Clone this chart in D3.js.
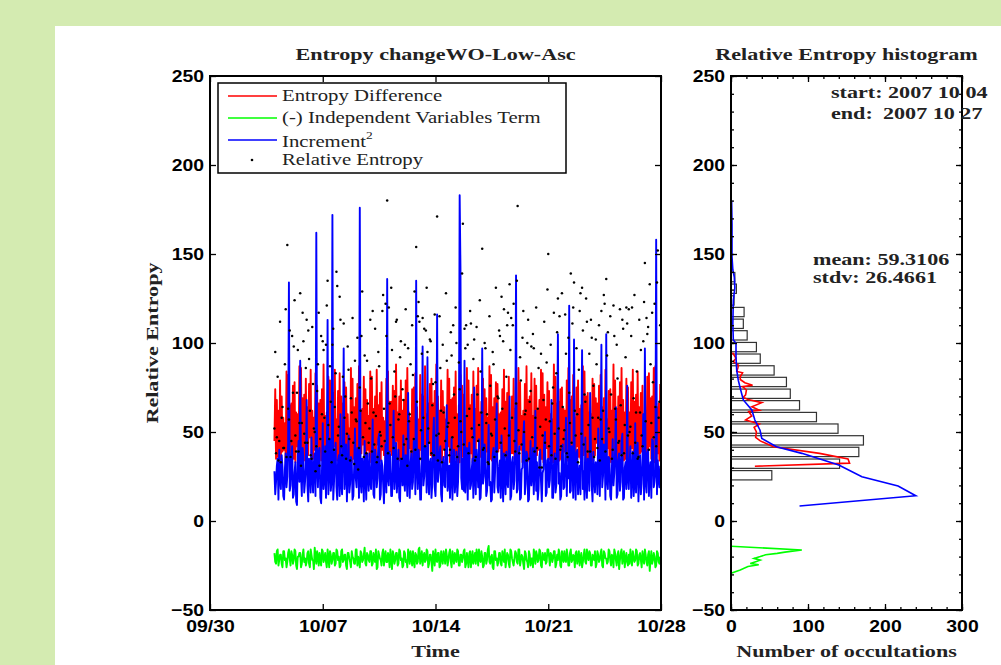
<!DOCTYPE html>
<html>
<head>
<meta charset="utf-8">
<script src="https://cdn.jsdelivr.net/npm/d3@7"></script>
<style>
  body { margin: 0; background: #d4ebb1; }
  svg { display: block; }
</style>
</head>
<body>
<div id="chart"></div>
<script>
// samples every 72 min starting 2007-10-04 00:00
const seriesStart = new Date(2007, 9, 4);
const stepMinutes = 72;

const entropyDiff = [
  45,74,35,68,36,62,34,79,33,70,39,58,40,55,33,84,34,82,36,65,
  37,66,41,76,35,78,33,61,42,60,37,87,33,86,35,69,38,71,34,80,
  34,64,37,77,47,85,33,62,35,58,40,83,33,76,36,66,39,68,34,74,
  34,88,38,59,36,61,33,81,44,79,35,67,33,72,42,85,38,57,34,73,
  35,83,33,70,41,66,36,78,34,75,39,60,37,52,33,86,33,80,35,64,
  46,69,38,77,35,87,34,62,38,63,43,81,34,74,33,68,40,59,36,84,
  33,81,38,63,36,70,34,85,43,65,33,72,34,78,40,58,37,56,35,80,
  35,84,33,67,39,67,37,76,33,73,44,88,45,61,34,70,34,79,36,62,
  36,68,34,79,33,86,38,61,41,58,33,74,35,75,36,83,38,64,34,57,
  34,82,40,71,37,70,33,87,33,60,35,66,44,77,37,80,35,66,33,73,
  34,88,36,70,39,62,33,79,33,73,41,64,36,57,34,85,42,80,33,68,
  34,69,38,75,37,84,35,60,33,65,33,82,40,76,36,71,35,59,34,86,
  33,79,35,65,38,71,33,84,34,63,37,76,45,86,34,61,36,67,42,80,
  33,74,33,69,39,58,36,87,35,82,34,64,37,69,33,78,34,77,39,60,
  41,61,34,74,33,85,36,67,36,72,33,81,34,56,38,70,38,80,35,63,
  35,66,33,86,43,78,40,59,33,62,34,77,37,87,33,68,34,70,36,83,
  36,59,33,80,33,76,37,62,40,68,34,85,35,83,33,71,38,64,41,78,
  34,73,35,60,46,57,33,88,33,81,38,66,37,67,34,74,35,75,33,63,
  39,62,35,79,34,86,33,68,36,70,40,82,33,58,34,75,42,79,36,63,
  35,65,33,87,37,84,39,70,33,72,34,61,38,60,33,80,34,77,37,69,
  44,66,33,76,35,82,36,64,33,69,34,85,37,57,41,73,34,74,33,62,
  40,88,35,79,36,63,33,70,33,78,38,86,38,68,34,61,35,80,33,75,
  34,61,36,78,41,85,33,67,36,71,34,84,33,64,38,72,39,76,33,60,
  34,59,35,81,37,83,42,69,35,70,33,86,33,87,36,64,38,66,34,77
];
const indepTerm = [
  -18,-23,-24,-17,-16,-25,-22,-19,-19,-24,-26,-17,-17,-22,-21,-26,-23,-18,-16,-21,
  -25,-17,-19,-24,-22,-16,-17,-25,-27,-20,-20,-18,-18,-26,-24,-19,-16,-23,-21,-25,
  -23,-18,-17,-24,-26,-16,-19,-22,-22,-27,-15,-20,-24,-17,-20,-25,-18,-22,-25,-16,
  -17,-23,-21,-18,-23,-26,-16,-20,-26,-17,-19,-24,-22,-18,-18,-25,-24,-16,-17,-22,
  -20,-26,-25,-17,-16,-23,-22,-19,-19,-25,-27,-18,-18,-21,-23,-26,-17,-20,-21,-24,
  -24,-16,-16,-25,-20,-22,-26,-17,-18,-23,-22,-19,-15,-24,-25,-18,-19,-22,-23,-17,
  -17,-25,-24,-18,-21,-23,-16,-27,-26,-17,-19,-21,-22,-25,-18,-16,-25,-20,-17,-23,
  -23,-18,-20,-26,-16,-21,-27,-17,-19,-24,-22,-18,-18,-25,-24,-16,-17,-22,-21,-26,
  -25,-17,-18,-23,-22,-26,-16,-19,-24,-17,-20,-25,-17,-22,-26,-18,-19,-24,-23,-16,
  -15,-24,-21,-17,-25,-20,-18,-23,-22,-16,-17,-26,-24,-19,-19,-23,-28,-17,-20,-25,
  -16,-22,-23,-18,-18,-26,-25,-17,-21,-24,-17,-20,-24,-16,-19,-25,-22,-18,-16,-23,
  -26,-17,-20,-24,-18,-21,-23,-16,-17,-25,-25,-19,-19,-23,-21,-17,-16,-26,-24,-18,
  -22,-26,-18,-17,-26,-21,-17,-24,-21,-18,-24,-16,-19,-25,-16,-22,-23,-17,-20,-26,
  -25,-18,-18,-24,-22,-16,-14,-23,-24,-20,-19,-26,-27,-17,-17,-22,-21,-25,-23,-18,
  -18,-24,-25,-17,-20,-23,-16,-26,-22,-18,-19,-24,-26,-16,-17,-21,-23,-25,-21,-17,
  -18,-23,-24,-16,-16,-25,-22,-19,-20,-24,-27,-17,-18,-22,-23,-26,-17,-19,-25,-21,
  -21,-26,-16,-19,-24,-17,-19,-23,-22,-16,-17,-25,-26,-18,-20,-22,-18,-24,-23,-16,
  -16,-20,-25,-18,-19,-23,-21,-17,-17,-26,-24,-19,-22,-16,-18,-25,-26,-17,-20,-23,
  -17,-22,-23,-16,-19,-25,-25,-18,-16,-23,-22,-19,-20,-26,-18,-17,-24,-21,-17,-25,
  -21,-18,-26,-23,-19,-16,-23,-24,-16,-20,-22,-17,-18,-25,-25,-19,-20,-22,-17,-26,
  -24,-17,-19,-23,-22,-18,-16,-25,-26,-17,-18,-21,-21,-24,-23,-16,-17,-22,-25,-19,
  -20,-26,-16,-18,-22,-25,-19,-17,-27,-22,-18,-16,-24,-20,-17,-26,-21,-18,-23,-25,
  -19,-24,-16,-21,-25,-17,-20,-23,-22,-16,-17,-25,-24,-19,-18,-22,-26,-17,-21,-24,
  -16,-19,-23,-25,-19,-17,-28,-22,-17,-24,-22,-18,-20,-26,-25,-17,-18,-23,-24,-20
];
const increment2 = [
  28,15,22,31,35,12,40,24,18,37,30,14,12,29,38,19,25,44,134,17,
  20,33,42,13,15,27,33,11,9,36,45,22,90,26,14,41,36,16,22,30,
  68,20,11,35,30,16,47,25,16,33,38,14,162,28,19,39,41,13,10,27,
  55,18,24,42,13,31,113,15,29,46,17,23,172,12,22,37,44,19,12,34,
  37,14,60,21,15,39,97,18,26,43,11,28,48,16,21,36,34,12,14,30,
  52,24,19,41,40,13,176,22,16,35,30,11,45,27,12,38,28,17,38,23,
  18,32,57,15,13,40,35,19,24,46,49,12,15,34,31,21,10,28,43,16,
  136,24,20,39,36,14,14,30,62,18,27,44,16,25,40,13,11,35,33,20,
  48,23,17,37,29,14,72,26,13,32,38,18,22,45,44,15,135,29,18,40,
  31,12,12,36,98,20,25,42,40,16,92,24,15,33,35,13,21,47,58,19,
  14,30,116,22,27,38,42,15,11,33,36,20,19,44,65,17,24,31,13,26,
  47,12,30,40,16,23,39,14,22,37,183,142,24,18,35,17,90,16,28,41,
  12,36,44,18,20,29,35,13,75,24,15,40,31,19,46,12,13,27,97,21,
  25,43,38,14,17,32,54,20,22,11,12,37,41,16,28,45,66,19,16,30,
  34,13,48,26,11,38,27,15,39,22,19,44,70,12,14,33,36,18,23,41,
  138,16,18,35,42,12,13,29,30,47,56,15,21,39,37,11,12,28,45,20,
  26,41,15,30,62,17,33,12,18,36,40,22,11,27,29,45,50,14,16,34,
  35,19,23,42,68,13,13,31,38,16,20,44,105,21,27,12,14,37,43,18,
  19,35,58,14,31,24,121,16,17,42,36,13,102,27,12,38,40,15,24,31,
  15,44,96,18,28,12,47,22,13,35,34,17,72,40,20,11,39,26,16,33,
  30,15,52,28,14,37,99,19,25,43,41,12,105,23,18,36,35,14,12,29,
  46,20,27,39,64,13,15,34,38,17,22,45,49,12,13,30,33,18,76,24,
  18,33,42,13,26,39,14,21,55,16,30,44,11,28,37,15,21,35,60,12,
  97,22,16,38,40,14,28,33,13,46,45,19,22,27,158,15,34,24,19,31
];
const relEntropy = [
  52,95,38,47,81,34,45,112,33,58,64,41,41,88,119,36,155,63,57,107,
  36,45,104,72,98,124,48,39,72,96,39,55,128,31,55,117,101,49,44,86,
  113,44,107,91,62,37,35,109,77,52,50,28,42,73,88,117,31,46,104,60,
  101,96,58,39,99,121,135,54,46,87,67,33,99,108,40,64,83,140,132,48,
  53,126,113,42,37,81,111,58,70,35,49,98,85,46,34,69,61,114,44,32,
  90,57,56,103,29,41,75,62,104,129,47,36,93,55,38,90,66,44,52,113,
  80,39,118,61,43,108,59,33,36,95,87,50,48,42,118,127,63,45,122,104,
  180,38,120,66,54,131,96,47,41,84,70,112,113,35,57,60,92,101,35,74,
  68,43,99,119,46,31,97,56,60,88,39,110,82,46,129,40,154,67,115,123,
  112,35,51,94,114,58,108,42,107,131,95,52,44,102,101,38,65,77,37,116,
  78,48,171,34,49,115,86,62,33,99,61,40,45,128,90,53,55,37,40,106,
  93,47,110,71,58,120,100,36,42,89,74,56,50,139,167,43,108,97,110,59,
  99,38,63,118,111,52,47,91,102,34,36,109,71,45,54,124,84,61,153,40,
  41,100,97,55,60,33,32,115,76,49,48,95,88,36,57,131,39,70,69,107,
  104,44,126,63,101,119,52,37,81,110,117,48,133,96,114,58,110,122,45,39,
  66,135,177,51,38,92,79,43,103,118,50,60,62,34,100,113,35,67,73,98,
  47,105,97,39,58,120,41,63,86,30,53,94,30,48,68,112,44,57,89,130,
  150,42,56,99,37,66,75,117,49,35,83,106,125,52,115,40,42,128,64,46,
  51,116,94,38,36,103,72,55,139,44,111,120,134,62,48,97,60,33,85,118,
  128,49,131,107,43,71,67,125,112,39,54,94,39,113,103,58,76,36,46,102,
  88,41,58,110,34,57,118,46,62,127,122,39,136,93,106,52,50,115,71,35,
  40,121,104,63,57,99,80,44,45,119,65,37,113,108,38,54,92,120,111,48,
  119,50,53,104,120,38,69,127,44,61,84,35,36,113,61,96,48,42,101,123,
  145,56,114,105,109,40,133,88,55,117,78,47,122,64,42,134,152,58,67,110
];

// relative entropy histogram (bin centre, number of occultations)
const binCenters = [25.7,32.2,38.8,45.3,51.9,58.4,65.0,71.5,78.1,84.6,91.2,97.7,104.3,110.8,117.4,123.9,130.5,137.0];
const binCounts  = [53,141,166,172,139,111,89,77,72,56,38,33,21,16,17,4,7,5];

// occurrence curves drawn over the histogram
const diffCurveVals   = [30.8,32.5,34.8,38,41.7,45,47,50,52.6,54.5,56.8,59,61.5,62.2,64.2,66.5,68.2,69.5,70.9,73.6,75.5,76.3,77.7,79.5,81,83.3,84,86,87.6,89.5,91.4,94.6];
const diffCurveCounts = [31,154,152,115,55,38,32,33,30,37,19,27,23,37,27,40,22,16,19,20,15,28,18,12,12,15,7.5,9,9.5,3,6.5,2];
const incCurveVals    = [8.4,14.2,19.7,24.9,31.5,38,41.7,46.4,51,56.7,62.4,68,73.6,79,84.8,92.3,99.8,101.7,111,124,131,137,141,148.4,167,180];
const incCurveCounts  = [89,240,217,170,140,92,59,40,37.7,31,27,16,12.6,9.5,7.4,6.5,6.5,3,2.4,3,5,4.3,2.4,1.3,1.3,0.8];
const indepCurveVals  = [-14.2,-16.3,-17.5,-18.2,-19.0,-20.0,-21.0,-22.0,-22.8,-23.9,-24.6,-25.6,-27.5,-29.4];
const indepCurveCounts= [0,92,70,60,45,38,30,38,33,25,36,22,12,0];

const timeTicks  = ["2007-09-30","2007-10-07","2007-10-14","2007-10-21","2007-10-28"];
const valueTicks = [-50,0,50,100,150,200,250];
const countTicks = [0,100,200,300];
const seriesNames = ["Entropy Difference","(-) Independent Variables Term","Increment","Relative Entropy"];
const statsLines = ["mean: 59.3106","stdv: 26.4661"];

const W = 1001, H = 665;
const serif = "'Liberation Serif','Times New Roman',serif";
const sans = "'Liberation Sans',Arial,sans-serif";

const svg = d3.select("#chart").append("svg").attr("width", W).attr("height", H);
svg.append("rect").attr("width", W).attr("height", H).attr("fill", "#d4ebb1");
svg.append("rect").attr("x", 55).attr("y", 26).attr("width", W - 55).attr("height", H - 26).attr("fill", "#fff");

function stretch(sel, k) {
  sel.each(function () {
    const w = this.getComputedTextLength();
    d3.select(this).attr("textLength", w * k).attr("lengthAdjust", "spacingAndGlyphs");
  });
}

const L = { x0: 210, x1: 661, y0: 76, y1: 610 };
const R = { x0: 731, x1: 962, y0: 76, y1: 610 };

const parseDay = d3.timeParse("%Y-%m-%d");
const tDates = timeTicks.map(parseDay);
const x = d3.scaleTime().domain([tDates[0], tDates[tDates.length - 1]]).range([L.x0, L.x1]);
const y = d3.scaleLinear().domain([-50, 250]).range([L.y1, L.y0]);
const xr = d3.scaleLinear().domain([0, 300]).range([R.x0, R.x1]);
const t = i => d3.timeMinute.offset(seriesStart, i * stepMinutes);
const fmtVal = d => d < 0 ? "\u2212" + Math.abs(d) : String(d);

// ---- left panel: time series
const gL = svg.append("g");
const tsLine = d3.line().x((d, i) => x(t(i))).y(d => y(d));
[[entropyDiff, "#ff0000"], [indepTerm, "#00ff00"], [increment2, "#0000ff"]].forEach(([vals, col]) => {
  gL.append("path").datum(vals)
    .attr("fill", "none").attr("stroke", col).attr("stroke-width", 1.9)
    .attr("stroke-linejoin", "round").attr("d", tsLine);
});
gL.selectAll("circle.re").data(relEntropy).join("circle")
  .attr("class", "re")
  .attr("cx", (d, i) => x(t(i))).attr("cy", d => y(d))
  .attr("r", 1.25).attr("fill", "#000");

function styleAxis(g) {
  g.select(".domain").remove();
  g.selectAll(".tick line").attr("stroke", "#000").attr("stroke-width", 1.3);
  g.selectAll("text").attr("font-family", sans).attr("font-weight", "bold")
    .attr("font-size", 17).attr("fill", "#000");
  stretch(g.selectAll("text"), 1.14);
}

svg.append("g").attr("transform", `translate(${L.x0},0)`)
  .call(d3.axisLeft(y).tickValues(valueTicks).tickSize(-6).tickPadding(6).tickFormat(fmtVal)).call(styleAxis);
svg.append("g").attr("transform", `translate(${L.x1},0)`)
  .call(d3.axisRight(y).tickValues(valueTicks).tickSize(-6).tickFormat("")).call(styleAxis);
svg.append("g").attr("transform", `translate(0,${L.y1})`)
  .call(d3.axisBottom(x).tickValues(tDates).tickSize(-6).tickPadding(10).tickFormat(d3.timeFormat("%m/%d"))).call(styleAxis);
svg.append("g").attr("transform", `translate(0,${L.y0})`)
  .call(d3.axisTop(x).tickValues(tDates).tickSize(-6).tickFormat("")).call(styleAxis);
svg.append("rect").attr("x", L.x0).attr("y", L.y0).attr("width", L.x1 - L.x0).attr("height", L.y1 - L.y0)
  .attr("fill", "none").attr("stroke", "#000").attr("stroke-width", 2);

// legend
const lg = svg.append("g");
lg.append("rect").attr("x", 218).attr("y", 83).attr("width", 348).attr("height", 90)
  .attr("fill", "#fff").attr("stroke", "#000").attr("stroke-width", 1.5);
const legendRows = [
  { name: seriesNames[0], color: "#ff0000", yy: 96 },
  { name: seriesNames[1], color: "#00ff00", yy: 118 },
  { name: seriesNames[2], color: "#0000ff", yy: 140, sup: "2" },
  { name: seriesNames[3], color: null, yy: 160 }
];
legendRows.forEach(r => {
  if (r.color) {
    lg.append("line").attr("x1", 228).attr("x2", 277).attr("y1", r.yy).attr("y2", r.yy)
      .attr("stroke", r.color).attr("stroke-width", 1.7);
  } else {
    lg.append("circle").attr("cx", 252).attr("cy", r.yy).attr("r", 1.3).attr("fill", "#000");
  }
  const tx = lg.append("text").attr("x", 282).attr("y", r.yy + (r.sup ? 7 : 5))
    .attr("font-family", serif).attr("font-size", 17).attr("fill", "#222").text(r.name);
  if (r.sup) tx.append("tspan").attr("dy", -8).attr("font-size", 11).text(r.sup);
  stretch(tx, 1.22);
});

// ---- right panel: histogram
const gR = svg.append("g");
const binW = (binCenters[binCenters.length - 1] - binCenters[0]) / (binCenters.length - 1);
gR.selectAll("rect.bar").data(binCenters).join("rect")
  .attr("class", "bar")
  .attr("x", xr(0))
  .attr("y", d => y(d + binW * 0.4))
  .attr("width", (d, i) => xr(binCounts[i]) - xr(0))
  .attr("height", d => y(d - binW * 0.4) - y(d + binW * 0.4))
  .attr("fill", "#fff").attr("stroke", "#333").attr("stroke-width", 1.2);

const hLine = d3.line().x(d => xr(d[0])).y(d => y(d[1]));
[[diffCurveCounts, diffCurveVals, "#ff0000"], [incCurveCounts, incCurveVals, "#0000ff"], [indepCurveCounts, indepCurveVals, "#00ff00"]]
  .forEach(([cs, vs, col]) => {
    gR.append("path").datum(cs.map((c, i) => [c, vs[i]]))
      .attr("fill", "none").attr("stroke", col).attr("stroke-width", 1.6).attr("d", hLine);
  });

const minorV = d3.range(-50, 251, 10), minorC = d3.range(0, 301, 20);
svg.append("g").attr("transform", `translate(${R.x0},0)`)
  .call(d3.axisLeft(y).tickValues(minorV).tickSize(-3).tickFormat("")).call(styleAxis);
svg.append("g").attr("transform", `translate(${R.x1},0)`)
  .call(d3.axisRight(y).tickValues(minorV).tickSize(-3).tickFormat("")).call(styleAxis);
svg.append("g").attr("transform", `translate(0,${R.y1})`)
  .call(d3.axisBottom(xr).tickValues(minorC).tickSize(-3).tickFormat("")).call(styleAxis);
svg.append("g").attr("transform", `translate(0,${R.y0})`)
  .call(d3.axisTop(xr).tickValues(minorC).tickSize(-3).tickFormat("")).call(styleAxis);
svg.append("g").attr("transform", `translate(${R.x0},0)`)
  .call(d3.axisLeft(y).tickValues(valueTicks).tickSize(-6).tickPadding(6).tickFormat(fmtVal)).call(styleAxis);
svg.append("g").attr("transform", `translate(${R.x1},0)`)
  .call(d3.axisRight(y).tickValues(valueTicks).tickSize(-6).tickFormat("")).call(styleAxis);
svg.append("g").attr("transform", `translate(0,${R.y1})`)
  .call(d3.axisBottom(xr).tickValues(countTicks).tickSize(-6).tickPadding(10)).call(styleAxis);
svg.append("g").attr("transform", `translate(0,${R.y0})`)
  .call(d3.axisTop(xr).tickValues(countTicks).tickSize(-6).tickFormat("")).call(styleAxis);
svg.append("rect").attr("x", R.x0).attr("y", R.y0).attr("width", R.x1 - R.x0).attr("height", R.y1 - R.y0)
  .attr("fill", "none").attr("stroke", "#000").attr("stroke-width", 2);

// ---- titles, labels, annotations
function boldText(xx, yy, s, anchor, rot) {
  const el = svg.append("text").attr("x", xx).attr("y", yy)
    .attr("text-anchor", anchor || "start")
    .attr("font-family", serif).attr("font-weight", "bold").attr("font-size", 17)
    .attr("fill", "#222").text(s);
  if (rot) el.attr("transform", `rotate(${rot},${xx},${yy})`);
  stretch(el, 1.3);
  return el;
}
boldText((L.x0 + L.x1) / 2, 60, "Entropy changeWO-Low-Asc", "middle");
boldText((R.x0 + R.x1) / 2, 60, "Relative Entropy histogram", "middle");
boldText((L.x0 + L.x1) / 2, 657, "Time", "middle");
boldText((R.x0 + R.x1) / 2, 657, "Number of occultations", "middle");
boldText(158, (L.y0 + L.y1) / 2, "Relative Entropy", "middle", -90);
boldText(831, 98, "start: 2007 10 04");
boldText(831, 119, "end:");
boldText(883, 119, "2007 10 27");
boldText(813, 265, statsLines[0]);
boldText(813, 283, statsLines[1]);
</script>
</body>
</html>
